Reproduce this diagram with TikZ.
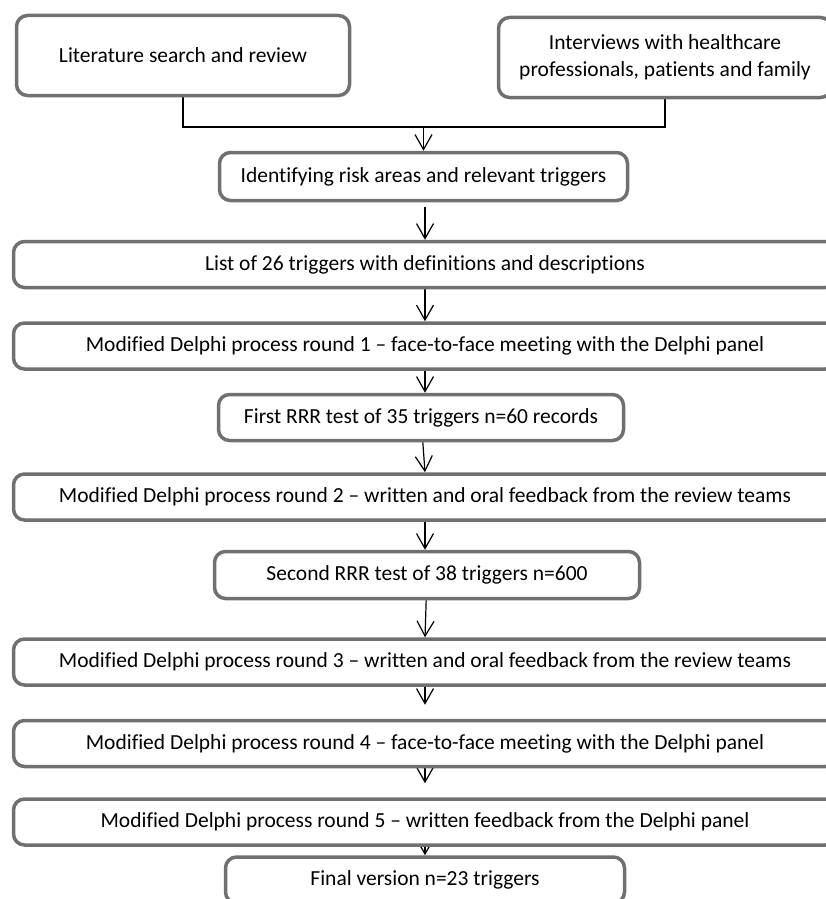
\documentclass[tikz,border=0pt]{standalone}
\usepackage{fontspec}
\setmainfont{Carlito}[Ligatures={TeX,NoCommon}]
\usetikzlibrary{arrows.meta,backgrounds}
\definecolor{boxgray}{RGB}{112,112,112}
\begin{document}
\begin{tikzpicture}[x=1pt,y=-1pt,>={Straight Barb[length=15pt,width=17pt]},
	font=\fontsize{21.5}{27}\selectfont, line join=round, line cap=round,
	stage/.style={draw=boxgray, line width=3.5pt, rounded corners=11pt, fill=white,
		inner sep=0pt, align=center},
	wide/.style={stage, minimum width=823pt, minimum height=46pt},
	flow/.style={->, line width=1.2pt}]
	\useasboundingbox (0,0) rectangle (826,899);
	\clip (0,0) rectangle (826,899);
	\def\xc{425} % mittlere Achse
	\node[stage, minimum width=333pt, minimum height=80pt] (lit) at (183,55.5) {Literature search and review};
	\node[stage, minimum width=333pt, minimum height=80pt] (intv) at (665,57.5) {Interviews with healthcare\\professionals, patients and family};
	\node[stage, minimum width=408pt, minimum height=48pt] (ident) at (423.5,176.5) {Identifying risk areas and relevant triggers};
	\node[wide] (list) at (\xc,264.5) {List of 26 triggers with definitions and descriptions};
	\node[wide] (rone) at (\xc,346) {Modified Delphi process round 1 – face-to-face meeting with the Delphi panel};
	\node[stage, minimum width=405pt, minimum height=46pt] (first) at (421,417.5) {First RRR test of 35 triggers n=60 records};
	\node[wide] (rtwo) at (\xc,497) {Modified Delphi process round 2 – written and oral feedback from the review teams};
	\node[stage, minimum width=425pt, minimum height=47pt] (second) at (427,575) {Second RRR test of 38 triggers n=600};
	\node[wide] (rthree) at (\xc,662) {Modified Delphi process round 3 – written and oral feedback from the review teams};
	\node[wide] (rfour) at (\xc,743.5) {Modified Delphi process round 4 – face-to-face meeting with the Delphi panel};
	\node[wide] (rfive) at (\xc,822) {Modified Delphi process round 5 – written feedback from the Delphi panel};
	\node[stage, minimum width=399pt, minimum height=46pt] (final) at (\xc,880) {Final version n=23 triggers};
	\coordinate (join) at (ident.north |- 0,127);
	\begin{scope}[on background layer]
		\draw[line width=1.2pt] (lit.south) |- (join) -| (intv.south);
		\draw[flow] (join) -- (ident.north);
		\draw[flow, shorten <=5pt] (ident.south -| list.north) -- (list.north);
		\draw[flow] (list) -- (rone.north);
		\draw[flow] (rone.south) -- (first.north -| rone.south);
		\draw[flow] (first) -- (rtwo.north);
		\draw[flow] (rtwo.south) -- (second.north -| rtwo.south);
		\draw[flow] (second) -- (rthree.north);
		\draw[flow, shorten >=14pt] (rthree) -- (rfour.north);
		\draw[flow, shorten >=14pt] (rfour) -- (rfive.north);
		\draw[flow] (rfive) -- (final.north);
	\end{scope}
\end{tikzpicture}
\end{document}
